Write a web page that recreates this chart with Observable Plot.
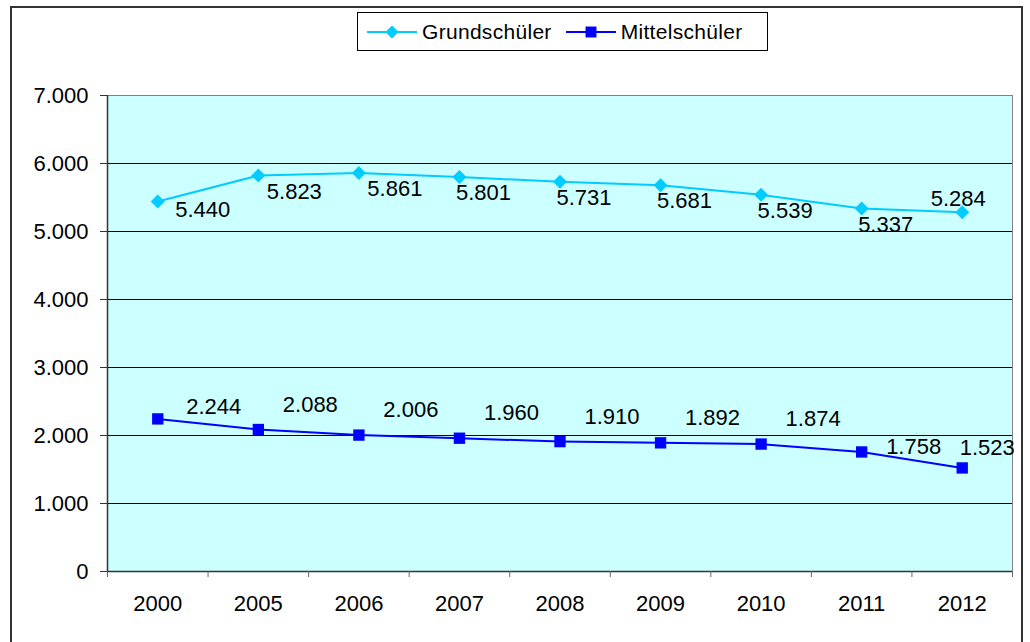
<!DOCTYPE html>
<html>
<head>
<meta charset="utf-8">
<script src="https://cdn.jsdelivr.net/npm/d3@7"></script>
<script src="https://cdn.jsdelivr.net/npm/@observablehq/plot@0.6"></script>
<style>
  html, body { margin: 0; padding: 0; background: #fff; }
  body { width: 1030px; height: 642px; position: relative; overflow: hidden; font-family: "Liberation Sans", Arial, sans-serif; }
  #outer { position: absolute; left: 10px; top: 6px; width: 1013px; height: 700px; border: 2px solid #333; box-sizing: border-box; pointer-events: none; }
  #legend { position: absolute; left: 357px; top: 12px; width: 411px; height: 39px; border: 1.5px solid #000; box-sizing: border-box; display: flex; align-items: center; padding: 0 0 0 8px; font-size: 21px; letter-spacing: 0.3px; color: #000; background: #fff; }
  #legend .item { display: flex; align-items: center; margin-right: 13px; }
  #legend svg { margin-right: 4px; }
  #chart { position: absolute; left: 0; top: 0; }
</style>
</head>
<body>
<div id="chart"></div>
<div id="legend"></div>
<div id="outer"></div>
<script>
// ---- data ----
const years = ["2000", "2005", "2006", "2007", "2008", "2009", "2010", "2011", "2012"];
const grundschueler = [5440, 5823, 5861, 5801, 5731, 5681, 5539, 5337, 5284];
const mittelschueler = [2244, 2088, 2006, 1960, 1910, 1892, 1874, 1758, 1523];
const seriesNames = ["Grundschüler", "Mittelschüler"];
const yTicks = [0, 1000, 2000, 3000, 4000, 5000, 6000, 7000];

const colorG = "#00CCFF";
const colorM = "#0000FF";

const de = d3.formatLocale({decimal: ",", thousands: ".", grouping: [3], currency: ["", " €"]});
const fmt = de.format(",d");

const gData = years.map((y, i) => ({i, year: y, value: grundschueler[i]}));
const mData = years.map((y, i) => ({i, year: y, value: mittelschueler[i]}));

const font = {fontFamily: "'Liberation Sans', Arial, sans-serif"};
const fs = 22;
const lbl = (data, dx, dy) => Plot.text(data, {x: "i", y: "value", text: d => fmt(d.value), dx, dy, fontSize: fs, fill: "#000"});

const labelMarks = [
  lbl(gData.filter(d => d.i === 0), 45, 8),
  lbl(gData.filter(d => d.i === 1 || d.i === 2), 36, 16),
  lbl(gData.filter(d => d.i >= 3 && d.i <= 7), 24, 16),
  lbl(gData.filter(d => d.i === 8), -4, -13),
  lbl(mData.filter(d => d.i === 0), 56, -12),
  lbl(mData.filter(d => d.i >= 1 && d.i <= 6), 52, -25),
  lbl(mData.filter(d => d.i === 7), 52, -5),
  lbl(mData.filter(d => d.i === 8), 25, -20)
];

const chart = Plot.plot({
  width: 1030,
  height: 642,
  marginLeft: 107,
  marginRight: 18,
  marginTop: 95,
  marginBottom: 71,
  style: {...font, background: "transparent", overflow: "visible"},
  x: {type: "linear", domain: [-0.5, years.length - 0.5], label: null},
  y: {type: "linear", domain: [0, 7000], label: null},
  marks: [
    Plot.frame({fill: "#CCFFFF", stroke: "#808080"}),
    Plot.ruleY(yTicks.filter(t => t > 0 && t < 7000), {stroke: "#000", strokeWidth: 1}),
    Plot.ruleX([-0.5], {stroke: "#333", strokeWidth: 1.5}),
    Plot.ruleY([0], {stroke: "#333", strokeWidth: 1.5}),
    Plot.axisY({ticks: yTicks, tickFormat: fmt, tickSize: 7, tickPadding: 12, fontSize: fs, stroke: "#333", fill: "#000", label: null}),
    Plot.axisX({ticks: d3.range(-0.5, years.length, 1), tickFormat: () => "", tickSize: 6, stroke: "#666", label: null}),
    Plot.axisX({ticks: d3.range(0, years.length), tickFormat: i => years[i], tickSize: 0, tickPadding: 24, fontSize: fs, fill: "#000", label: null}),
    Plot.line(gData, {x: "i", y: "value", stroke: colorG, strokeWidth: 2}),
    Plot.dot(gData, {x: "i", y: "value", symbol: "diamond2", r: 6.3, fill: colorG, stroke: "none"}),
    Plot.line(mData, {x: "i", y: "value", stroke: colorM, strokeWidth: 2}),
    Plot.dot(mData, {x: "i", y: "value", symbol: "square", r: 6.4, fill: colorM, stroke: "none"}),
    ...labelMarks
  ]
});
document.getElementById("chart").appendChild(chart);

// legend
const legend = document.getElementById("legend");
const swatches = [
  {name: seriesNames[0], color: colorG, shape: "diamond"},
  {name: seriesNames[1], color: colorM, shape: "square"}
];
for (const s of swatches) {
  const item = document.createElement("div");
  item.className = "item";
  const svg = d3.create("svg").attr("width", 52).attr("height", 20);
  svg.append("line").attr("x1", 1).attr("x2", 51).attr("y1", 10).attr("y2", 10).attr("stroke", s.color).attr("stroke-width", 2);
  const sym = s.shape === "diamond" ? d3.symbolDiamond2 : d3.symbolSquare;
  const size = s.shape === "diamond" ? 110 : 120;
  svg.append("path").attr("d", d3.symbol(sym, size)()).attr("transform", "translate(26,10)").attr("fill", s.color);
  item.appendChild(svg.node());
  const span = document.createElement("span");
  span.textContent = s.name;
  item.appendChild(span);
  legend.appendChild(item);
}
</script>
</body>
</html>
